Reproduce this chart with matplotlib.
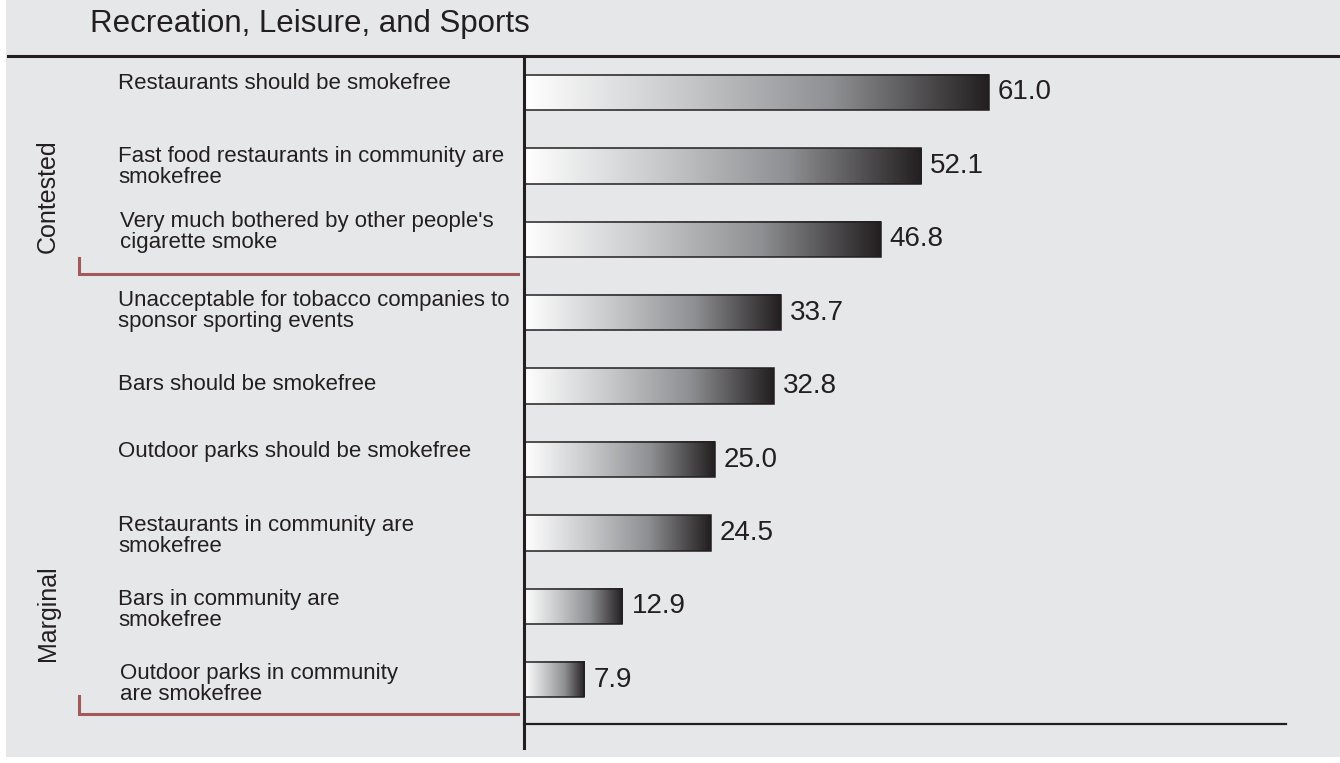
import numpy as np
import matplotlib.pyplot as plt
from matplotlib.colors import LinearSegmentedColormap
from matplotlib.lines import Line2D
from matplotlib.patches import Rectangle
from matplotlib.transforms import blended_transform_factory

plt.rcParams['font.family'] = ['Liberation Sans', 'DejaVu Sans']

# data
title = 'Recreation, Leisure, and Sports'
labels = [
    'Restaurants should be smokefree',
    'Fast food restaurants in community are\nsmokefree',
    "Very much bothered by other people's\ncigarette smoke",
    'Unacceptable for tobacco companies to\nsponsor sporting events',
    'Bars should be smokefree',
    'Outdoor parks should be smokefree',
    'Restaurants in community are\nsmokefree',
    'Bars in community are\nsmokefree',
    'Outdoor parks in community\nare smokefree',
]
values = [61.0, 52.1, 46.8, 33.7, 32.8, 25.0, 24.5, 12.9, 7.9]
groups = ['Contested', 'Marginal']

W, H = 1340, 763
ink = '#231f20'
bg = '#e6e7e8'
red = '#a3585c'

def fx(px):
    return px / W

def fy(py):
    return 1 - py / H

fig = plt.figure(figsize=(W / 100, H / 100), dpi=100, facecolor='white')

# grey panel behind everything
fig.patches.append(Rectangle((fx(6), fy(757)), 1 - fx(6), fy(0) - fy(757),
                             transform=fig.transFigure, facecolor=bg,
                             edgecolor='none', zorder=-5))

ax = fig.add_axes([fx(524), fy(724), fx(1286) - fx(524), fy(56) - fy(724)])
ax.set_facecolor('none')

cmap = LinearSegmentedColormap.from_list('shade', ['#ffffff', '#c9cacc', '#8e8f92', ink])
grad = np.linspace(0, 1, 256).reshape(1, -1)
ypos = np.arange(len(values))
bh = 0.48

for y, v in zip(ypos, values):
    ax.imshow(grad, cmap=cmap, aspect='auto', interpolation='bilinear',
              extent=(0, v, y + bh / 2, y - bh / 2), zorder=2)
    ax.add_patch(Rectangle((0, y - bh / 2), v, bh, facecolor='none',
                           edgecolor=ink, lw=1.1, zorder=3))
    ax.text(v + 1.2, y, f'{v:.1f}', fontsize=20, color=ink, va='center', ha='left')

ax.set_xlim(0, 100)
ax.set_ylim(8.603, -0.497)
ax.set_xticks([])
ax.set_yticks([])
for s in ['top', 'right', 'left']:
    ax.spines[s].set_visible(False)
ax.spines['bottom'].set_color(ink)
ax.spines['bottom'].set_linewidth(1.6)

# category labels, nudged up/down a few pixels each
row_px = 73.4
nudge = [-9, 1, -7, -2, -2, -8, 3, 4, 4]
left_px = [118, 118, 120, 118, 118, 118, 118, 118, 120]
tr = blended_transform_factory(fig.transFigure, ax.transData)
for y, lab, dy, lx in zip(ypos, labels, nudge, left_px):
    ax.text(fx(lx), y + dy / row_px, lab, transform=tr, fontsize=16, color=ink,
            va='center', ha='left', linespacing=1.0)

# title and frame lines
fig.text(fx(90), fy(24), title, fontsize=22.5, color=ink, va='center', ha='left')
fig.add_artist(Line2D([fx(8), 1], [fy(56), fy(56)], color=ink, lw=2.2))
fig.add_artist(Line2D([fx(523.5), fx(523.5)], [fy(56), fy(748)], color=ink, lw=2.2))

# group labels and brackets
fig.text(fx(48), fy(196), groups[0], fontsize=18, color=ink, rotation=90,
         va='center', ha='center')
fig.text(fx(48), fy(613), groups[1], fontsize=18, color=ink, rotation=90,
         va='center', ha='center')
for top, bot in [(258, 274), (696, 714)]:
    fig.add_artist(Line2D([fx(79), fx(79), fx(518)], [fy(top), fy(bot), fy(bot)],
                          color=red, lw=2.2, solid_joinstyle='miter'))

fig.savefig('out.png', dpi=100, facecolor=fig.get_facecolor())
